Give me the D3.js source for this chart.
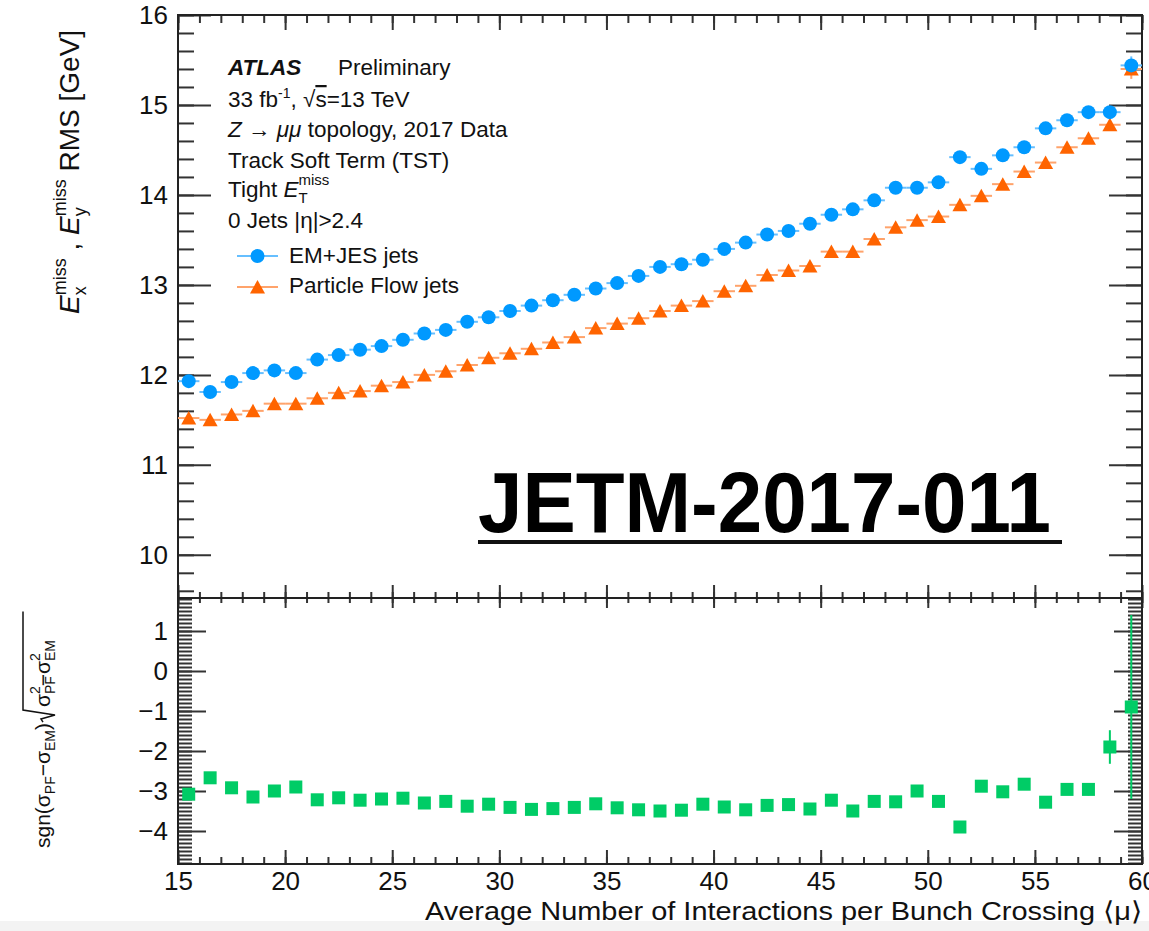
<!DOCTYPE html>
<html>
<head>
<meta charset="utf-8">
<script src="https://cdn.jsdelivr.net/npm/d3@7"></script>
<style>
body { margin: 0; background: #fff; }
svg { display: block; font-family: "Liberation Sans", Arial, Helvetica, sans-serif; }
.tk .tick line { stroke: #333; stroke-width: 2; }
.lbl .tick text { font-size: 26px; fill: #111; }
</style>
</head>
<body>
<div class="chart"></div>
<script>
// bin centres of <mu>
var binCenters = [15.5, 16.5, 17.5, 18.5, 19.5, 20.5, 21.5, 22.5, 23.5, 24.5,
                  25.5, 26.5, 27.5, 28.5, 29.5, 30.5, 31.5, 32.5, 33.5, 34.5,
                  35.5, 36.5, 37.5, 38.5, 39.5, 40.5, 41.5, 42.5, 43.5, 44.5,
                  45.5, 46.5, 47.5, 48.5, 49.5, 50.5, 51.5, 52.5, 53.5, 54.5,
                  55.5, 56.5, 57.5, 58.5, 59.5];

// EM+JES jets RMS [GeV]
var emRms = [11.93, 11.81, 11.92, 12.02, 12.05, 12.02, 12.17, 12.22, 12.28, 12.32,
             12.39, 12.46, 12.50, 12.59, 12.64, 12.71, 12.77, 12.83, 12.89, 12.96,
             13.02, 13.10, 13.20, 13.23, 13.28, 13.40, 13.47, 13.56, 13.60, 13.68,
             13.78, 13.84, 13.94, 14.08, 14.08, 14.14, 14.42, 14.29, 14.44, 14.53,
             14.74, 14.83, 14.92, 14.92, 15.44];
var emErr = [0.02, 0.02, 0.02, 0.02, 0.02, 0.02, 0.02, 0.02, 0.02, 0.02,
             0.02, 0.02, 0.02, 0.02, 0.02, 0.02, 0.02, 0.02, 0.02, 0.02,
             0.02, 0.02, 0.02, 0.02, 0.02, 0.02, 0.02, 0.02, 0.02, 0.02,
             0.02, 0.02, 0.02, 0.03, 0.03, 0.03, 0.03, 0.03, 0.04, 0.04,
             0.04, 0.05, 0.05, 0.06, 0.10];

// Particle Flow jets RMS [GeV]
var pfRms = [11.52, 11.50, 11.56, 11.60, 11.68, 11.68, 11.74, 11.80, 11.82, 11.88,
             11.92, 12.00, 12.04, 12.11, 12.19, 12.24, 12.29, 12.36, 12.42, 12.52,
             12.57, 12.63, 12.71, 12.77, 12.82, 12.93, 12.99, 13.11, 13.16, 13.21,
             13.37, 13.37, 13.51, 13.64, 13.72, 13.76, 13.89, 13.99, 14.12, 14.26,
             14.36, 14.53, 14.63, 14.78, 15.40];
var pfErr = [0.02, 0.02, 0.02, 0.02, 0.02, 0.02, 0.02, 0.02, 0.02, 0.02,
             0.02, 0.02, 0.02, 0.02, 0.02, 0.02, 0.02, 0.02, 0.02, 0.02,
             0.02, 0.02, 0.02, 0.02, 0.02, 0.02, 0.02, 0.02, 0.02, 0.02,
             0.02, 0.02, 0.02, 0.03, 0.03, 0.03, 0.03, 0.03, 0.04, 0.04,
             0.04, 0.05, 0.05, 0.06, 0.11];

// sgn(sPF-sEM) sqrt(|sPF^2-sEM^2|)
var quadDiff = [-3.08, -2.67, -2.92, -3.15, -3.00, -2.90, -3.22, -3.17, -3.23, -3.20,
                -3.18, -3.30, -3.26, -3.38, -3.33, -3.41, -3.46, -3.44, -3.41, -3.32,
                -3.42, -3.47, -3.50, -3.48, -3.33, -3.40, -3.47, -3.36, -3.34, -3.45,
                -3.23, -3.50, -3.26, -3.27, -3.00, -3.26, -3.90, -2.88, -3.02, -2.83,
                -3.28, -2.96, -2.96, -1.90, -0.90];
var quadErr = [0.05, 0.05, 0.05, 0.05, 0.05, 0.05, 0.05, 0.05, 0.05, 0.05,
               0.05, 0.05, 0.05, 0.05, 0.05, 0.05, 0.05, 0.05, 0.05, 0.05,
               0.05, 0.05, 0.05, 0.05, 0.05, 0.05, 0.05, 0.05, 0.06, 0.06,
               0.07, 0.07, 0.08, 0.09, 0.12, 0.10, 0.10, 0.14, 0.12, 0.14,
               0.12, 0.13, 0.15, 0.42, 2.30];

var xMajor = [15, 20, 25, 30, 35, 40, 45, 50, 55, 60];
var topMajor = [10, 11, 12, 13, 14, 15, 16];
var lowMajor = [-4, -3, -2, -1, 0, 1];

var emColor = '#0099ff', emLight = '#66bfff';
var pfColor = '#ff6400', pfLight = '#ffa36b';
var qdColor = '#00cc66';

/*-------------------------------------------------------*/
var W = 1149, H = 931;
var L = 178, R = 1142, T = 15, MID = 598, B = 864;

var svg = d3.select('.chart').append('svg')
    .attr('width', W)
    .attr('height', H);

svg.append('rect').attr('x', 0).attr('y', 921).attr('width', W).attr('height', 10)
    .attr('fill', '#f3f3f3');

var x = d3.scaleLinear().domain([15, 60]).range([L, R]);
var yTop = d3.scaleLinear().domain([9.52, 16]).range([MID, T]);
var yLow = d3.scaleLinear().domain([-4.825, 1.825]).range([B, MID]);

// tick marks only
function ticks(gen, tx, ty, vals, size){
    svg.append('g')
        .attr('class', 'tk')
        .attr('transform', `translate(${tx}, ${ty})`)
        .call(gen.tickValues(vals).tickSize(size).tickFormat(''))
        .call((g) => { g.select('.domain').remove(); });
}
// labels only
function labels(gen, tx, ty, vals, pad, fmt){
    var g = svg.append('g')
        .attr('class', 'lbl')
        .attr('transform', `translate(${tx}, ${ty})`)
        .call(gen.tickValues(vals).tickSize(0).tickPadding(pad).tickFormat(fmt));
    g.select('.domain').remove();
    g.selectAll('text').attr('font-family', null);
    return g;
}

var xMinor = d3.range(15, 60.5, 1);
var topMinor = d3.range(9.6, 16.01, 0.2);
var lowMinor = d3.range(-4.8, 1.81, 0.1);
var minus = (v) => { return String(v).replace('-', '\u2212'); };

// upper pad
ticks(d3.axisRight(yTop), L, 0, topMajor, 33);
ticks(d3.axisRight(yTop), L, 0, topMinor, 16);
ticks(d3.axisLeft(yTop), R, 0, topMajor, 33);
ticks(d3.axisLeft(yTop), R, 0, topMinor, 16);
ticks(d3.axisBottom(x), 0, T, xMajor, 15);
ticks(d3.axisBottom(x), 0, T, xMinor, 8);
ticks(d3.axisTop(x), 0, MID, xMajor, 13);
ticks(d3.axisTop(x), 0, MID, xMinor, 6);
labels(d3.axisLeft(yTop), L, 0, topMajor, 10, (d) => d);

// lower pad
ticks(d3.axisRight(yLow), L, 0, lowMajor, 28);
ticks(d3.axisRight(yLow), L, 0, lowMinor, 14);
ticks(d3.axisLeft(yLow), R, 0, lowMajor, 28);
ticks(d3.axisLeft(yLow), R, 0, lowMinor, 14);
ticks(d3.axisBottom(x), 0, MID, xMajor, 10);
ticks(d3.axisBottom(x), 0, MID, xMinor, 5);
ticks(d3.axisTop(x), 0, B, xMajor, 14);
ticks(d3.axisTop(x), 0, B, xMinor, 7);
labels(d3.axisLeft(yLow), L, 0, lowMajor, 10, minus);
labels(d3.axisBottom(x), 0, B, xMajor, 8, (d) => d);

// frames
svg.append('rect').attr('x', L).attr('y', T).attr('width', R - L).attr('height', MID - T)
    .attr('fill', 'none').attr('stroke', '#222').attr('stroke-width', 2);
svg.append('rect').attr('x', L).attr('y', MID).attr('width', R - L).attr('height', B - MID)
    .attr('fill', 'none').attr('stroke', '#222').attr('stroke-width', 2);

// data rows
var rows = binCenters.map((c, i) => {
    return { c: c, em: emRms[i], emE: emErr[i], pf: pfRms[i], pfE: pfErr[i],
             q: quadDiff[i], qE: quadErr[i] };
});

function errBars(key, ekey, y, col, horiz){
    var g = svg.append('g').attr('stroke', col).attr('stroke-width', 2);
    if(horiz){
        g.selectAll('.h').data(rows).enter().append('line')
            .attr('x1', (d) => x(d.c - 0.5)).attr('x2', (d) => x(d.c + 0.5))
            .attr('y1', (d) => y(d[key])).attr('y2', (d) => y(d[key]));
    }
    g.selectAll('.v').data(rows).enter().append('line')
        .attr('x1', (d) => x(d.c)).attr('x2', (d) => x(d.c))
        .attr('y1', (d) => y(d[key] - d[ekey])).attr('y2', (d) => y(d[key] + d[ekey]));
}

errBars('pf', 'pfE', yTop, pfLight, true);
errBars('em', 'emE', yTop, emLight, true);

var triPath = 'M0,-7L7.5,6.5L-7.5,6.5Z';
svg.append('g').selectAll('path').data(rows).enter().append('path')
    .attr('d', triPath)
    .attr('fill', pfColor)
    .attr('transform', (d) => `translate(${x(d.c)}, ${yTop(d.pf)})`);

svg.append('g').selectAll('circle').data(rows).enter().append('circle')
    .attr('cx', (d) => x(d.c)).attr('cy', (d) => yTop(d.em)).attr('r', 7)
    .attr('fill', emColor);

errBars('q', 'qE', yLow, qdColor, false);
svg.append('g').selectAll('rect').data(rows).enter().append('rect')
    .attr('x', (d) => x(d.c) - 6.5).attr('y', (d) => yLow(d.q) - 6.5)
    .attr('width', 13).attr('height', 13)
    .attr('fill', qdColor);

/**** texts ****/
function txt(xp, yp, size){
    return svg.append('text').attr('x', xp).attr('y', yp)
        .attr('font-size', size).attr('fill', '#111');
}
function span(t, s, opts){
    var sp = t.append('tspan').text(s);
    opts = opts || {};
    for(var k in opts){ sp.attr(k, opts[k]); }
    return sp;
}
// sub + sup stacked at the same x
function subSup(t, sub, sup, size, dn, up){
    var a = span(t, sub, {'font-size': size, dy: dn});
    var w = a.node().getComputedTextLength();
    span(t, sup, {'font-size': size, dx: -w, dy: -(dn + up)});
    return up;
}

var fs = 22.5;
var t1 = txt(228, 75, fs);
span(t1, 'ATLAS', {'font-weight': 'bold', 'font-style': 'italic'});
txt(338, 75, fs).text('Preliminary');

var t2 = txt(228, 107, fs);
span(t2, '33 fb');
span(t2, '-1', {'font-size': 14, dy: -9});
span(t2, ', ', {dy: 9});
span(t2, '\u221A');
span(t2, 's', {'text-decoration': 'overline'});
span(t2, '=13 TeV');

var t3 = txt(228, 137, fs);
span(t3, 'Z', {'font-style': 'italic'});
span(t3, ' \u2192 ');
span(t3, '\u03BC\u03BC', {'font-style': 'italic'});
span(t3, ' topology, 2017 Data');

txt(228, 168, fs).text('Track Soft Term (TST)');

var t5 = txt(228, 197, fs);
span(t5, 'Tight ');
span(t5, 'E', {'font-style': 'italic'});
subSup(t5, 'T', 'miss', 15, 6, 12);

var t6 = txt(228, 228, fs);
span(t6, '0 Jets |\u03B7|>2.4');

// legend
svg.append('line').attr('x1', 237).attr('x2', 278).attr('y1', 256).attr('y2', 256)
    .attr('stroke', emLight).attr('stroke-width', 2);
svg.append('circle').attr('cx', 257.5).attr('cy', 256).attr('r', 7).attr('fill', emColor);
txt(289, 263, fs).text('EM+JES jets');
svg.append('line').attr('x1', 237).attr('x2', 278).attr('y1', 287).attr('y2', 287)
    .attr('stroke', pfLight).attr('stroke-width', 2);
svg.append('path').attr('d', triPath).attr('fill', pfColor)
    .attr('transform', 'translate(257.5, 287)');
txt(289, 293, fs).text('Particle Flow jets');

// JETM tag
txt(478, 532, 86)
    .attr('font-weight', 'bold')
    .attr('fill', '#000')
    .attr('textLength', 573)
    .attr('lengthAdjust', 'spacingAndGlyphs')
    .text('JETM-2017-011');
svg.append('rect').attr('x', 478).attr('y', 540).attr('width', 584).attr('height', 4)
    .attr('fill', '#111');

// x title
txt(R, 920, 26)
    .attr('text-anchor', 'end')
    .attr('textLength', 717)
    .attr('lengthAdjust', 'spacingAndGlyphs')
    .text('Average Number of Interactions per Bunch Crossing \u27E8\u03BC\u27E9');

// upper y title
var yt = svg.append('text')
    .attr('transform', 'translate(79, 314) rotate(-90)')
    .attr('font-size', 28).attr('fill', '#111');
span(yt, 'E', {'font-style': 'italic'});
subSup(yt, 'x', 'miss', 18, 7, 13);
span(yt, ' , ', {dy: 13});
span(yt, 'E', {'font-style': 'italic'});
subSup(yt, 'y', 'miss', 18, 7, 13);
span(yt, ' RMS [GeV]', {dy: 13});

// lower y title
var lg = svg.append('g').attr('transform', 'translate(50, 848) rotate(-90)');
var la = lg.append('text').attr('font-size', 21).attr('fill', '#111');
span(la, 'sgn(\u03C3');
span(la, 'PF', {'font-size': 14, dy: 5});
span(la, '\u2212\u03C3', {dy: -5});
span(la, 'EM', {'font-size': 14, dy: 5});
span(la, ')', {dy: -5});
var l1 = la.node().getComputedTextLength();
var lb = lg.append('text').attr('x', l1 + 16).attr('font-size', 21).attr('fill', '#111');
span(lb, '\u03C3');
subSup(lb, 'PF', '2', 14, 5, 10);
span(lb, '\u2212\u03C3', {dy: 10});
subSup(lb, 'EM', '2', 14, 5, 10);
var l2 = lb.node().getComputedTextLength();
lg.append('path')
    .attr('d', `M${l1 + 1},-7L${l1 + 4},-9L${l1 + 8},5L${l1 + 13},-27H${l1 + 16 + l2 + 3}`)
    .attr('fill', 'none').attr('stroke', '#111').attr('stroke-width', 1.5);
</script>
</body>
</html>
